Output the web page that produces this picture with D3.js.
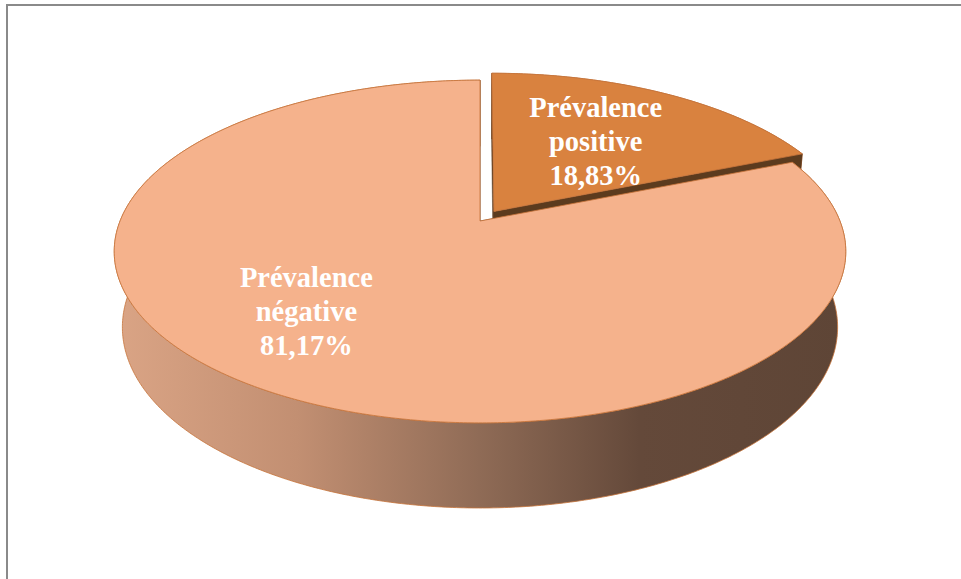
<!DOCTYPE html>
<html>
<head>
<meta charset="utf-8">
<script src="https://cdn.jsdelivr.net/npm/d3@7"></script>
<style>
  html, body { margin: 0; padding: 0; background: #ffffff; }
  svg { display: block; }
</style>
</head>
<body>
<svg id="chart" width="961" height="579"></svg>
<script>
// Data
const categories = ["Prévalence positive", "Prévalence négative"];
const values = [18.83, 81.17];
const labelNames = [["Prévalence", "positive"], ["Prévalence", "négative"]];

// Styling per slice
const explode = [0.07, 0];
const topColors = ["#D9823F", "#F5B28C"];
const cutFaceColors = ["#5C3B1E", "#5C3B1E"];
const labelRadius = [0.56, 0.667];
const labelAngleShift = [0, 7.3];

const W = 961, H = 579;
const svg = d3.select("#chart");

// Frame
svg.append("path")
  .attr("d", "M7,579 L7,5 L961,5")
  .attr("fill", "none")
  .attr("stroke", "#8a8a8a")
  .attr("stroke-width", 2);

// 3D projection of a unit disk seen from above with perspective
const cx = 480, cy = 221;
const tilt = Math.asin(0.461);
const sinA = Math.sin(tilt), cosA = Math.cos(tilt);
const D = 4.987, F = 1795;
const thick = 0.239;

function proj(x, y, h) {
  const d = D + y * cosA - h * sinA;
  return [cx + F * x / d, cy - F * (y * sinA + h * cosA) / d];
}
function rimPoint(phi, r, h, off) {
  return proj(off[0] + r * Math.sin(phi), off[1] + r * Math.cos(phi), h);
}
function arcPts(a0, a1, r, h, off) {
  const n = Math.max(2, Math.ceil(Math.abs(a1 - a0) / (Math.PI / 360)));
  return d3.range(n + 1).map(i => rimPoint(a0 + (a1 - a0) * i / n, r, h, off));
}

const line = d3.line().curve(d3.curveLinearClosed);
const arcs = d3.pie().sort(null).value(d => d)(values);

// Side gradient: light on the left, dark brown on the right
const defs = svg.append("defs");
const grad = defs.append("linearGradient")
  .attr("id", "sideGrad")
  .attr("gradientUnits", "userSpaceOnUse")
  .attr("x1", 116).attr("y1", 0).attr("x2", 843).attr("y2", 0);
[[0, "#DAA485"], [0.25, "#C28F72"], [0.5, "#8F6B56"], [0.72, "#64493A"], [1, "#5E4536"]]
  .forEach(([o, c]) => grad.append("stop").attr("offset", o).attr("stop-color", c));

const edge = "#C7733A";
const g = svg.append("g");

// Draw the exploded slice first (it sits further back), then the main slice
const order = [0, 1];
order.forEach(i => {
  const a = arcs[i];
  const e = explode[i];
  const mid = (a.startAngle + a.endAngle) / 2;
  const off = [e * Math.sin(mid), e * Math.cos(mid)];
  const sg = g.append("g").attr("class", "slice");

  // outer wall
  const topArc = arcPts(a.startAngle, a.endAngle, 1, 0, off);
  const botArc = arcPts(a.startAngle, a.endAngle, 1, -thick, off).reverse();
  sg.append("path")
    .attr("d", line(topArc.concat(botArc)))
    .attr("fill", "url(#sideGrad)")
    .attr("stroke", edge).attr("stroke-width", 0.8);

  // radial cut faces
  [a.startAngle, a.endAngle].forEach(phi => {
    const c0 = proj(off[0], off[1], 0);
    const c1 = rimPoint(phi, 1, 0, off);
    const c2 = rimPoint(phi, 1, -thick, off);
    const c3 = proj(off[0], off[1], -thick);
    sg.append("path")
      .attr("d", line([c0, c1, c2, c3]))
      .attr("fill", cutFaceColors[i])
      .attr("stroke", cutFaceColors[i]).attr("stroke-width", 0.5);
  });

  // top face
  const topFace = [proj(off[0], off[1], 0)].concat(topArc);
  sg.append("path")
    .attr("d", line(topFace))
    .attr("fill", topColors[i])
    .attr("stroke", edge).attr("stroke-width", 0.8);
});

// Labels
const fmt = v => d3.format(".2f")(v).replace(".", ",") + "%";
arcs.forEach((a, i) => {
  const e = explode[i];
  const mid = (a.startAngle + a.endAngle) / 2;
  const off = [e * Math.sin(mid), e * Math.cos(mid)];
  const phi = mid + labelAngleShift[i] * Math.PI / 180;
  const [lx, ly] = rimPoint(phi, labelRadius[i], 0, off);
  const lines = labelNames[i].concat([fmt(values[i])]);
  const t = svg.append("text")
    .attr("text-anchor", "middle")
    .attr("font-family", "'Liberation Serif', 'Times New Roman', serif")
    .attr("font-weight", "bold")
    .attr("font-size", 28.5)
    .attr("fill", "#ffffff");
  lines.forEach((s, k) => {
    t.append("tspan")
      .attr("x", lx)
      .attr("y", ly + 9 + (k - 1) * 34)
      .text(s);
  });
});
</script>
</body>
</html>
